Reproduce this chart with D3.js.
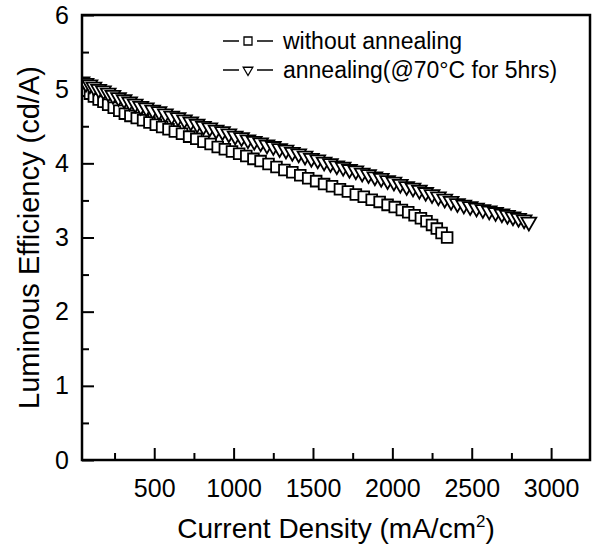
<!DOCTYPE html>
<html lang="en">
<head>
<meta charset="utf-8">
<title>Luminous Efficiency</title>
<script src="https://d3js.org/d3.v7.min.js"></script>
<style>
    body { margin: 0; background: #fff; }
    text { font-family: Arial, "Liberation Sans", sans-serif; fill: #000; }
</style>
</head>
<body>
<svg id="chart" width="592" height="545"></svg>
<script>
    // current density (mA/cm2) and luminous efficiency (cd/A)
    let plain_x = [45, 70, 95, 120, 150, 180, 210, 245, 280, 315, 350, 390, 430, 470, 510, 550, 590, 630, 675, 720,
        765, 810, 855, 900, 945, 990, 1035, 1080, 1125, 1170, 1220, 1270, 1320, 1370, 1420, 1470, 1520, 1570, 1620, 1670,
        1720, 1770, 1820, 1870, 1920, 1970, 2015, 2060, 2100, 2140, 2180, 2215, 2250, 2280, 2310, 2345];
    let plain_y = [5.02, 4.98, 4.94, 4.90, 4.86, 4.83, 4.79, 4.75, 4.71, 4.67, 4.64, 4.61, 4.58, 4.55, 4.52, 4.49, 4.46, 4.43, 4.40, 4.36,
        4.33, 4.29, 4.26, 4.22, 4.19, 4.16, 4.13, 4.10, 4.06, 4.03, 3.99, 3.95, 3.91, 3.88, 3.84, 3.80, 3.76, 3.72, 3.69, 3.65,
        3.62, 3.58, 3.55, 3.51, 3.48, 3.44, 3.41, 3.37, 3.34, 3.30, 3.26, 3.22, 3.17, 3.12, 3.06, 3.00];

    let anneal_x = [45, 70, 95, 120, 150, 180, 210, 240, 275, 310, 345, 380, 415, 450, 490, 530, 570, 610, 650, 690,
        730, 770, 810, 850, 890, 930, 970, 1010, 1050, 1090, 1130, 1170, 1210, 1250, 1290, 1330, 1370, 1410, 1450, 1490,
        1530, 1570, 1610, 1650, 1690, 1730, 1770, 1810, 1850, 1890, 1930, 1970, 2010, 2050, 2090, 2130, 2170, 2210, 2250, 2290,
        2330, 2370, 2410, 2450, 2490, 2530, 2570, 2610, 2650, 2690, 2725, 2760, 2795, 2830, 2860];
    let anneal_y = [5.10, 5.08, 5.06, 5.03, 5.00, 4.98, 4.95, 4.92, 4.89, 4.86, 4.83, 4.80, 4.77, 4.75, 4.72, 4.70, 4.67, 4.64, 4.62, 4.59,
        4.56, 4.53, 4.50, 4.48, 4.45, 4.43, 4.40, 4.37, 4.35, 4.32, 4.30, 4.28, 4.25, 4.23, 4.20, 4.18, 4.15, 4.13, 4.10, 4.07,
        4.05, 4.02, 4.00, 3.97, 3.95, 3.92, 3.90, 3.87, 3.85, 3.82, 3.80, 3.77, 3.75, 3.72, 3.69, 3.67, 3.64, 3.61, 3.58, 3.55,
        3.52, 3.49, 3.46, 3.44, 3.42, 3.40, 3.38, 3.36, 3.34, 3.32, 3.30, 3.28, 3.26, 3.24, 3.21];

    let x_ticks = [500, 1000, 1500, 2000, 2500, 3000];
    let x_minor = [250, 750, 1250, 1750, 2250, 2750];
    let y_ticks = [0, 1, 2, 3, 4, 5, 6];
    let y_minor = [0.5, 1.5, 2.5, 3.5, 4.5, 5.5];
    let series_names = ['without annealing', 'annealing(@70°C for 5hrs)'];

    let svg = d3.select('#chart');
    let p_left = 82, p_right = 590, p_top = 15, p_bottom = 460;

    let x = d3.scaleLinear().domain([45, 3245]).range([p_left, p_right]);
    let y = d3.scaleLinear().domain([0, 6]).range([p_bottom, p_top]);

    // ticks point inward, like the original
    let x_axis = svg.append('g')
        .attr('transform', `translate(0, ${p_bottom})`)
        .call(d3.axisBottom(x).tickValues(x_ticks).tickSize(-12).tickPadding(19).tickFormat(d3.format('d')));
    svg.append('g')
        .attr('transform', `translate(0, ${p_bottom})`)
        .call(d3.axisBottom(x).tickValues(x_minor).tickSize(-7).tickFormat(''));
    let y_axis = svg.append('g')
        .attr('transform', `translate(${p_left}, 0)`)
        .call(d3.axisLeft(y).tickValues(y_ticks).tickSize(-12).tickPadding(13).tickFormat(d3.format('d')));
    svg.append('g')
        .attr('transform', `translate(${p_left}, 0)`)
        .call(d3.axisLeft(y).tickValues(y_minor).tickSize(-7).tickFormat(''));

    svg.selectAll('.domain').remove();
    svg.selectAll('.tick line').attr('stroke', '#000').attr('stroke-width', 2);
    svg.selectAll('.tick text').style('font-size', '25px');

    svg.append('rect')
        .attr('x', p_left).attr('y', p_top)
        .attr('width', p_right - p_left).attr('height', p_bottom - p_top)
        .attr('fill', 'none').attr('stroke', '#000').attr('stroke-width', 2.5);

    svg.append('clipPath').attr('id', 'plot-clip')
        .append('rect')
        .attr('x', p_left + 1).attr('y', p_top).attr('width', p_right - p_left - 1).attr('height', p_bottom - p_top);

    let square = d3.symbol().type(d3.symbolSquare).size(115);
    let triangle = d3.symbol().type(d3.symbolTriangle).size(95);

    function draw_series(xs, ys, shape, rotate){
        let pts = xs.map((v, i) => ({x: v, y: ys[i]}));
        let g = svg.append('g').attr('clip-path', 'url(#plot-clip)');
        g.append('path')
            .datum(pts)
            .attr('fill', 'none')
            .attr('stroke', '#000')
            .attr('stroke-width', 1.5)
            .attr('d', d3.line().x(d => x(d.x)).y(d => y(d.y)));
        g.selectAll('path.mark')
            .data(pts)
            .enter().append('path')
            .attr('class', 'mark')
            .attr('d', shape)
            .attr('transform', d => `translate(${x(d.x)}, ${y(d.y)}) rotate(${rotate})`)
            .attr('fill', '#fff')
            .attr('stroke', '#000')
            .attr('stroke-width', 1.8);
    }
    draw_series(plain_x, plain_y, square, 0);
    draw_series(anneal_x, anneal_y, triangle, 180);

    // legend
    let legend_rows = [
        {name: series_names[0], shape: d3.symbol().type(d3.symbolSquare).size(64), rotate: 0, cy: 41},
        {name: series_names[1], shape: d3.symbol().type(d3.symbolTriangle).size(40), rotate: 180, cy: 70}
    ];
    let legend = svg.append('g');
    legend_rows.forEach(r => {
        legend.append('line').attr('x1', 223).attr('x2', 239).attr('y1', r.cy).attr('y2', r.cy)
            .attr('stroke', '#000').attr('stroke-width', 1.5);
        legend.append('line').attr('x1', 257).attr('x2', 273).attr('y1', r.cy).attr('y2', r.cy)
            .attr('stroke', '#000').attr('stroke-width', 1.5);
        legend.append('path').attr('d', r.shape)
            .attr('transform', `translate(248, ${r.cy}) rotate(${r.rotate})`)
            .attr('fill', '#fff').attr('stroke', '#000').attr('stroke-width', 1.3);
        legend.append('text')
            .attr('x', 283).attr('y', r.cy + 8)
            .style('font-size', '23px')
            .text(r.name);
    });

    // axis titles
    let x_title = svg.append('text')
        .attr('x', (p_left + p_right) / 2).attr('y', 538)
        .attr('text-anchor', 'middle')
        .style('font-size', '28px');
    x_title.append('tspan').text('Current Density (mA/cm');
    x_title.append('tspan').attr('dy', -11).style('font-size', '17px').text('2');
    x_title.append('tspan').attr('dy', 11).text(')');

    svg.append('text')
        .attr('transform', `translate(39, ${(p_top + p_bottom) / 2}) rotate(-90)`)
        .attr('text-anchor', 'middle')
        .style('font-size', '29px')
        .text('Luminous Efficiency (cd/A)');
</script>
</body>
</html>
